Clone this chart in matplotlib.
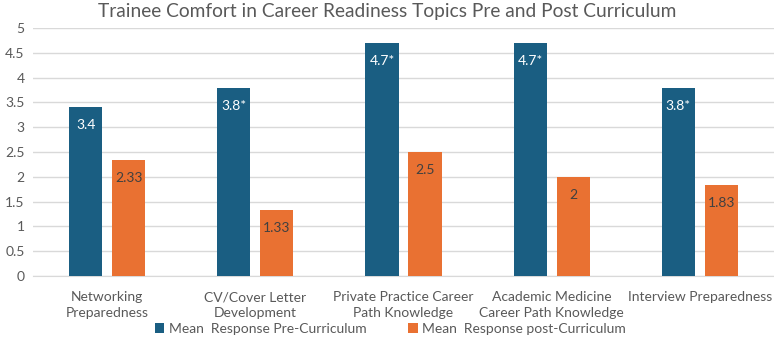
import numpy as np
import matplotlib.pyplot as plt

plt.rcParams['font.family'] = ['Lato', 'DejaVu Sans']

categories = ["Networking\nPreparedness", "CV/Cover Letter\nDevelopment",
              "Private Practice Career\nPath Knowledge",
              "Academic Medicine\nCareer Path Knowledge", "Interview Preparedness"]
pre_values = [3.4, 3.8, 4.7, 4.7, 3.8]
post_values = [2.33, 1.33, 2.5, 2.0, 1.83]
pre_labels = ["3.4", "3.8*", "4.7*", "4.7*", "3.8*"]
post_labels = ["2.33", "1.33", "2.5", "2", "1.83"]
series_names = ["Mean  Response Pre-Curriculum", "Mean  Response post-Curriculum"]

blue = "#1a5e82"
orange = "#e97132"
text_gray = "#595959"

fig = plt.figure(figsize=(7.74, 3.38), dpi=100)
ax = fig.add_axes([33 / 774, 62 / 338, 741 / 774, 248 / 338])

x = np.arange(len(categories))
w = 0.225
b1 = ax.bar(x - 0.145, pre_values, w, color=blue, label=series_names[0], zorder=3)
b2 = ax.bar(x + 0.145, post_values, w, color=orange, label=series_names[1], zorder=3)

# value labels just inside the top of each bar
for rect, lab in zip(b1, pre_labels):
    ax.annotate(lab, (rect.get_x() + rect.get_width() / 2, rect.get_height()),
                xytext=(0, -13), textcoords="offset points", ha="center", va="center",
                color="white", fontsize=10)
for rect, lab in zip(b2, post_labels):
    ax.annotate(lab, (rect.get_x() + rect.get_width() / 2, rect.get_height()),
                xytext=(0, -13), textcoords="offset points", ha="center", va="center",
                color="#404040", fontsize=10)

ax.set_xlim(-0.5, len(categories) - 0.5)
ax.set_ylim(0, 5)
ax.set_yticks(np.arange(0, 5.01, 0.5))
ax.set_yticklabels(["0", "0.5", "1", "1.5", "2", "2.5", "3", "3.5", "4", "4.5", "5"])
ax.yaxis.grid(True, color="#d9d9d9", linewidth=1, zorder=0)
ax.set_xticks(x)
ax.set_xticklabels(categories, linespacing=1.4)
ax.tick_params(axis="both", length=0, labelsize=10, colors=text_gray)
ax.tick_params(axis="x", pad=11)
ax.tick_params(axis="y", pad=6)
for s in ["top", "right", "left"]:
    ax.spines[s].set_visible(False)
ax.spines["bottom"].set_color("#d9d9d9")

fig.text(0.5, 1 - 12 / 338, "Trainee Comfort in Career Readiness Topics Pre and Post Curriculum",
         ha="center", va="center", fontsize=13.75, color=text_gray)

ax.legend(loc="center", bbox_to_anchor=(0.482, -0.212), ncol=2, frameon=False,
          fontsize=10, labelcolor=text_gray, handlelength=0.7, handleheight=0.7,
          handletextpad=0.3, columnspacing=3.0, borderpad=0)

fig.savefig("out.png", dpi=100)
